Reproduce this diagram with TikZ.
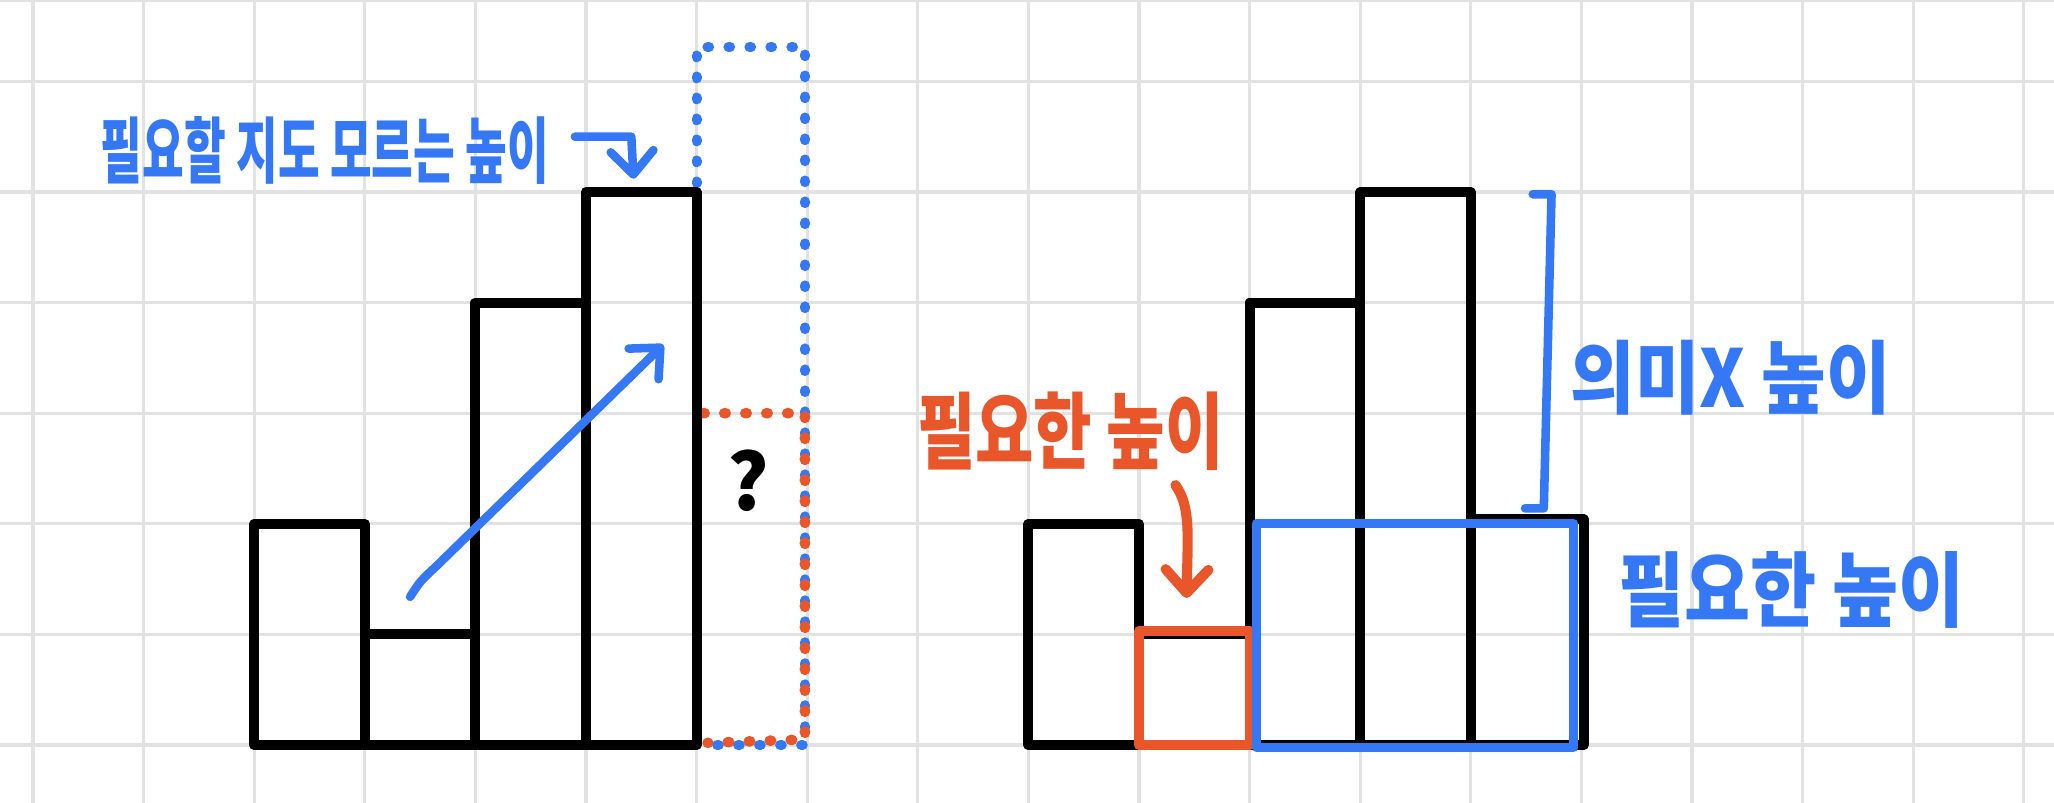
\documentclass[tikz,border=0pt]{standalone}
\usepackage{fontspec}
\newfontfamily\kr{Noto Sans CJK KR}
\usetikzlibrary{arrows.meta}
\definecolor{penblue}{RGB}{52,120,246}
\definecolor{penorange}{RGB}{232,86,42}
\definecolor{gridgray}{RGB}{226,226,226}
\begin{document}
\begin{tikzpicture}[x=1cm,y=1cm,
  gridline/.style={gridgray, line width=0.8pt},
  barline/.style={black, line width=2.6pt, line join=round, line cap=round},
  bluepen/.style={penblue, line width=2.2pt, line cap=round, line join=round},
  orangepen/.style={penorange, line width=2.6pt, line cap=round, line join=round},
  bluedots/.style={penblue, line width=2.6pt, line cap=round, dash pattern=on 0.4pt off 5pt},
  orangedots/.style={penorange, line width=2.7pt, line cap=round, dash pattern=on 0.4pt off 5pt},
  barb/.style={-{Straight Barb[length=6pt,width=11pt,line cap=round,round]}},
  txt/.style={font=\kr\bfseries, inner sep=0pt, anchor=center}
]
\useasboundingbox (-0.298,-0.524) rectangle (18.273,6.736);
\fill[white] (-0.298,-0.524) rectangle (18.273,6.736);
% grid
\foreach \x in {0,...,18} \draw[gridline] (\x,-0.524) -- (\x,6.736);
\foreach \y in {0,...,6} \draw[gridline] (-0.298,\y) -- (18.273,\y);
\draw[gridgray, line width=0.6pt] (-0.298,6.73) -- (18.273,6.73);

% ---------- left chart ----------
\draw[bluedots] (6,5.08) -- (6,6.31) -- (6.98,6.31) -- (6.98,0) -- (6.05,0);
\draw[orangedots] (6.06,3) -- (6.98,3) -- (6.98,0.05) -- (6.1,0.02);
\draw[barline] (2,0) rectangle (3,2);
\draw[barline] (3,0) rectangle (4,1);
\draw[barline] (4,0) rectangle (5,4);
\draw[barline] (5,0) rectangle (6,5);

\node[txt, black, font=\kr\bfseries\fontsize{20pt}{24pt}\selectfont] (q) at (6.47,2.39) {?};

\coordinate (a1) at (3.41,1.34);
\coordinate (a2) at (5.70,3.62);
\draw[bluepen, barb] (a1) .. controls (3.5,1.48) .. (3.65,1.62) -- (a2);

\node[txt, penblue, font=\kr\bfseries\fontsize{18.5pt}{22pt}\selectfont, xscale=0.63] (t1) at (2.64,5.38) {필요할 지도 모르는 높이};
\coordinate (h1) at (4.90,5.50);
\coordinate (h2) at (5.41,5.50);
\coordinate (h3) at (5.43,5.12);
\draw[bluepen, barb] (h1) -- (h2) -- (h3);

% ---------- right chart ----------
\draw[barline] (9,0) rectangle (10,2);
\draw[barline] (10,0) rectangle (11,1);
\draw[barline] (11,0) rectangle (12,4);
\draw[barline] (12,0) rectangle (13,5);
\draw[barline] (13,0) rectangle (14.02,2.04);

\draw[orangepen] (10,0) rectangle (11,1.03);
\draw[bluepen, line width=2.4pt] (11.06,-0.02) rectangle (13.93,2.0);

\node[txt, penorange, font=\kr\bfseries\fontsize{21.5pt}{25pt}\selectfont, xscale=0.76] (t2) at (9.38,2.84) {필요한 높이};
\coordinate (o1) at (10.33,2.35);
\coordinate (o2) at (10.43,1.33);
\draw[orangepen, barb] (o1) .. controls (10.47,2.15) and (10.44,1.9) .. (o2);

\coordinate (b1) at (13.56,4.98);
\coordinate (b2) at (13.73,4.98);
\coordinate (b3) at (13.66,2.14);
\coordinate (b4) at (13.49,2.14);
\draw[bluepen] (b1) -- (b2) -- (b3) -- (b4);

\node[txt, penblue, font=\kr\bfseries\fontsize{20.5pt}{24pt}\selectfont, xscale=0.88] (t3) at (15.35,3.32) {의미X 높이};
\node[txt, penblue, font=\kr\bfseries\fontsize{21pt}{25pt}\selectfont, xscale=0.88] (t4) at (15.9,1.40) {필요한 높이};
\end{tikzpicture}
\end{document}
